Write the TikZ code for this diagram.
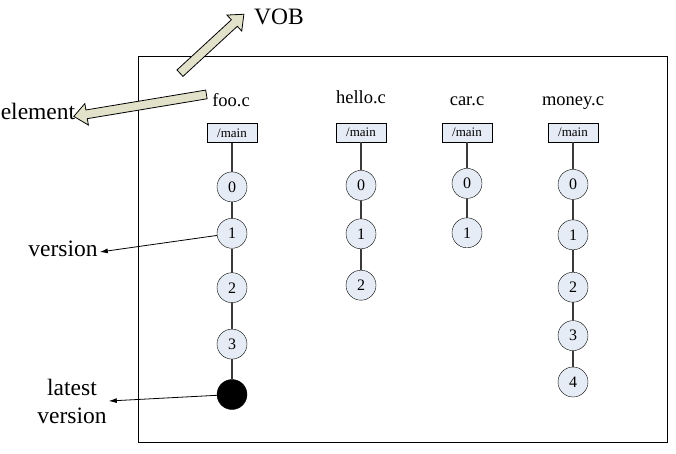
\documentclass[tikz,border=0pt]{standalone}
\usepackage{fontspec}
\setmainfont{Liberation Serif}
\usepackage{tikz}
\usetikzlibrary{positioning,calc,shapes.arrows,arrows.meta}
\definecolor{verfill}{HTML}{E6ECF5}
\definecolor{arrfill}{HTML}{E2E2CA}
\definecolor{linkgray}{HTML}{3A3A3A}
\def\BigFont{\fontsize{23.5}{28}\selectfont}
\def\FileFont{\fontsize{18.5}{22}\selectfont}
\def\BranchFont{\fontsize{13}{15}\selectfont}
\def\VerFont{\fontsize{16}{18}\selectfont}
\tikzset{
	vernode/.style={circle,draw,fill=verfill,minimum size=30pt,inner sep=0pt,font=\VerFont},
	latestnode/.style={circle,draw,fill=black,minimum size=30pt,inner sep=0pt},
	branchbox/.style={draw,fill=verfill,minimum width=50pt,minimum height=19pt,inner sep=0pt,font=\BranchFont},
	filelabel/.style={anchor=base,inner sep=0pt,font=\FileFont},
	sidelabel/.style={inner sep=2pt,font=\BigFont,align=center},
	link/.style={draw=linkgray,line width=1.1pt},
	pointer/.style={draw,line width=0.8pt,-{Latex[length=8pt,width=5pt]}},
	fatarrow/.style={single arrow,draw,fill=arrfill,line width=0.8pt,inner sep=4pt,
		minimum width=21pt,single arrow head extend=6.5pt,single arrow tip angle=80,
		single arrow head indent=0pt},
}

\begin{document}
\begin{tikzpicture}[x=1pt,y=-1pt]
	\useasboundingbox (0,0) rectangle (676,453);
	% VOB frame
	\draw[line width=0.9pt] (138,56) rectangle (667,442);
	%
	\node[filelabel] (foolab) at (231,106) {foo.c};
	\node[filelabel] (hellolab) at (361,103) {hello.c};
	\node[filelabel] (carlab) at (467,105) {car.c};
	\node[filelabel] (moneylab) at (573,105) {money.c};
	%
	\node[branchbox] (foomain) at (232,133) {/main};
	\node[branchbox] (hellomain) at (361,132.5) {/main};
	\node[branchbox] (carmain) at (467,132.5) {/main};
	\node[branchbox] (moneymain) at (573,132.5) {/main};
	% foo.c
	\node[vernode,below=29pt of foomain] (foo0) {0};
	\node[vernode,below=16pt of foo0] (foo1) {1};
	\node[vernode,below=24pt of foo1] (foo2) {2};
	\node[vernode,below=26pt of foo2] (foo3) {3};
	\node[latestnode,below=20pt of foo3] (fooL) {};
	% hello.c
	\node[vernode,below=28pt of hellomain] (hello0) {0};
	\node[vernode,below=18pt of hello0] (hello1) {1};
	\node[vernode,below=21pt of hello1] (hello2) {2};
	% car.c
	\node[vernode,below=26pt of carmain] (car0) {0};
	\node[vernode,below=19pt of car0] (car1) {1};
	% money.c
	\node[vernode,below=27pt of moneymain] (money0) {0};
	\node[vernode,below=20pt of money0] (money1) {1};
	\node[vernode,below=22pt of money1] (money2) {2};
	\node[vernode,below=18pt of money2] (money3) {3};
	\node[vernode,below=16pt of money3] (money4) {4};
	%
	\path[link] (foomain) -- (foo0) -- (foo1) -- (foo2) -- (foo3) -- (fooL);
	\path[link] (hellomain) -- (hello0) -- (hello1) -- (hello2);
	\path[link] (carmain) -- (car0) -- (car1);
	\path[link] (moneymain) -- (money0) -- (money1) -- (money2) -- (money3) -- (money4);
	% labels outside
	\node[sidelabel] (vob) at (279,17) {VOB};
	\node[sidelabel] (element) at (38,111) {element};
	\node[sidelabel] (verlab) at (63,249) {version};
	\node[sidelabel] (latestlab) at (72,401) {latest\\version};
	%
	\coordinate (vobtail) at (178,75);
	\coordinate (vobtip) at ($(vob.west)+(-10,-1)$);
	\coordinate (eltail) at (209,94);
	\coordinate (eltip) at ($(element.east)+(-1,5)$);
	\path let \p1=($(vobtip)-(vobtail)$), \n1={atan2(\y1,\x1)}, \n2={veclen(\x1,\y1)} in
		node[fatarrow,minimum height=\n2,rotate=\n1] (vobarrow) at ($(vobtail)!0.5!(vobtip)$) {};
	\path let \p1=($(eltip)-(eltail)$), \n1={atan2(\y1,\x1)}, \n2={veclen(\x1,\y1)} in
		node[fatarrow,minimum height=\n2,rotate=\n1] (elarrow) at ($(eltail)!0.5!(eltip)$) {};
	%
	\path[pointer] (foo1) -- ($(verlab.east)+(0,3)$);
	\path[pointer] (fooL) -- (latestlab.east);
\end{tikzpicture}
\end{document}
